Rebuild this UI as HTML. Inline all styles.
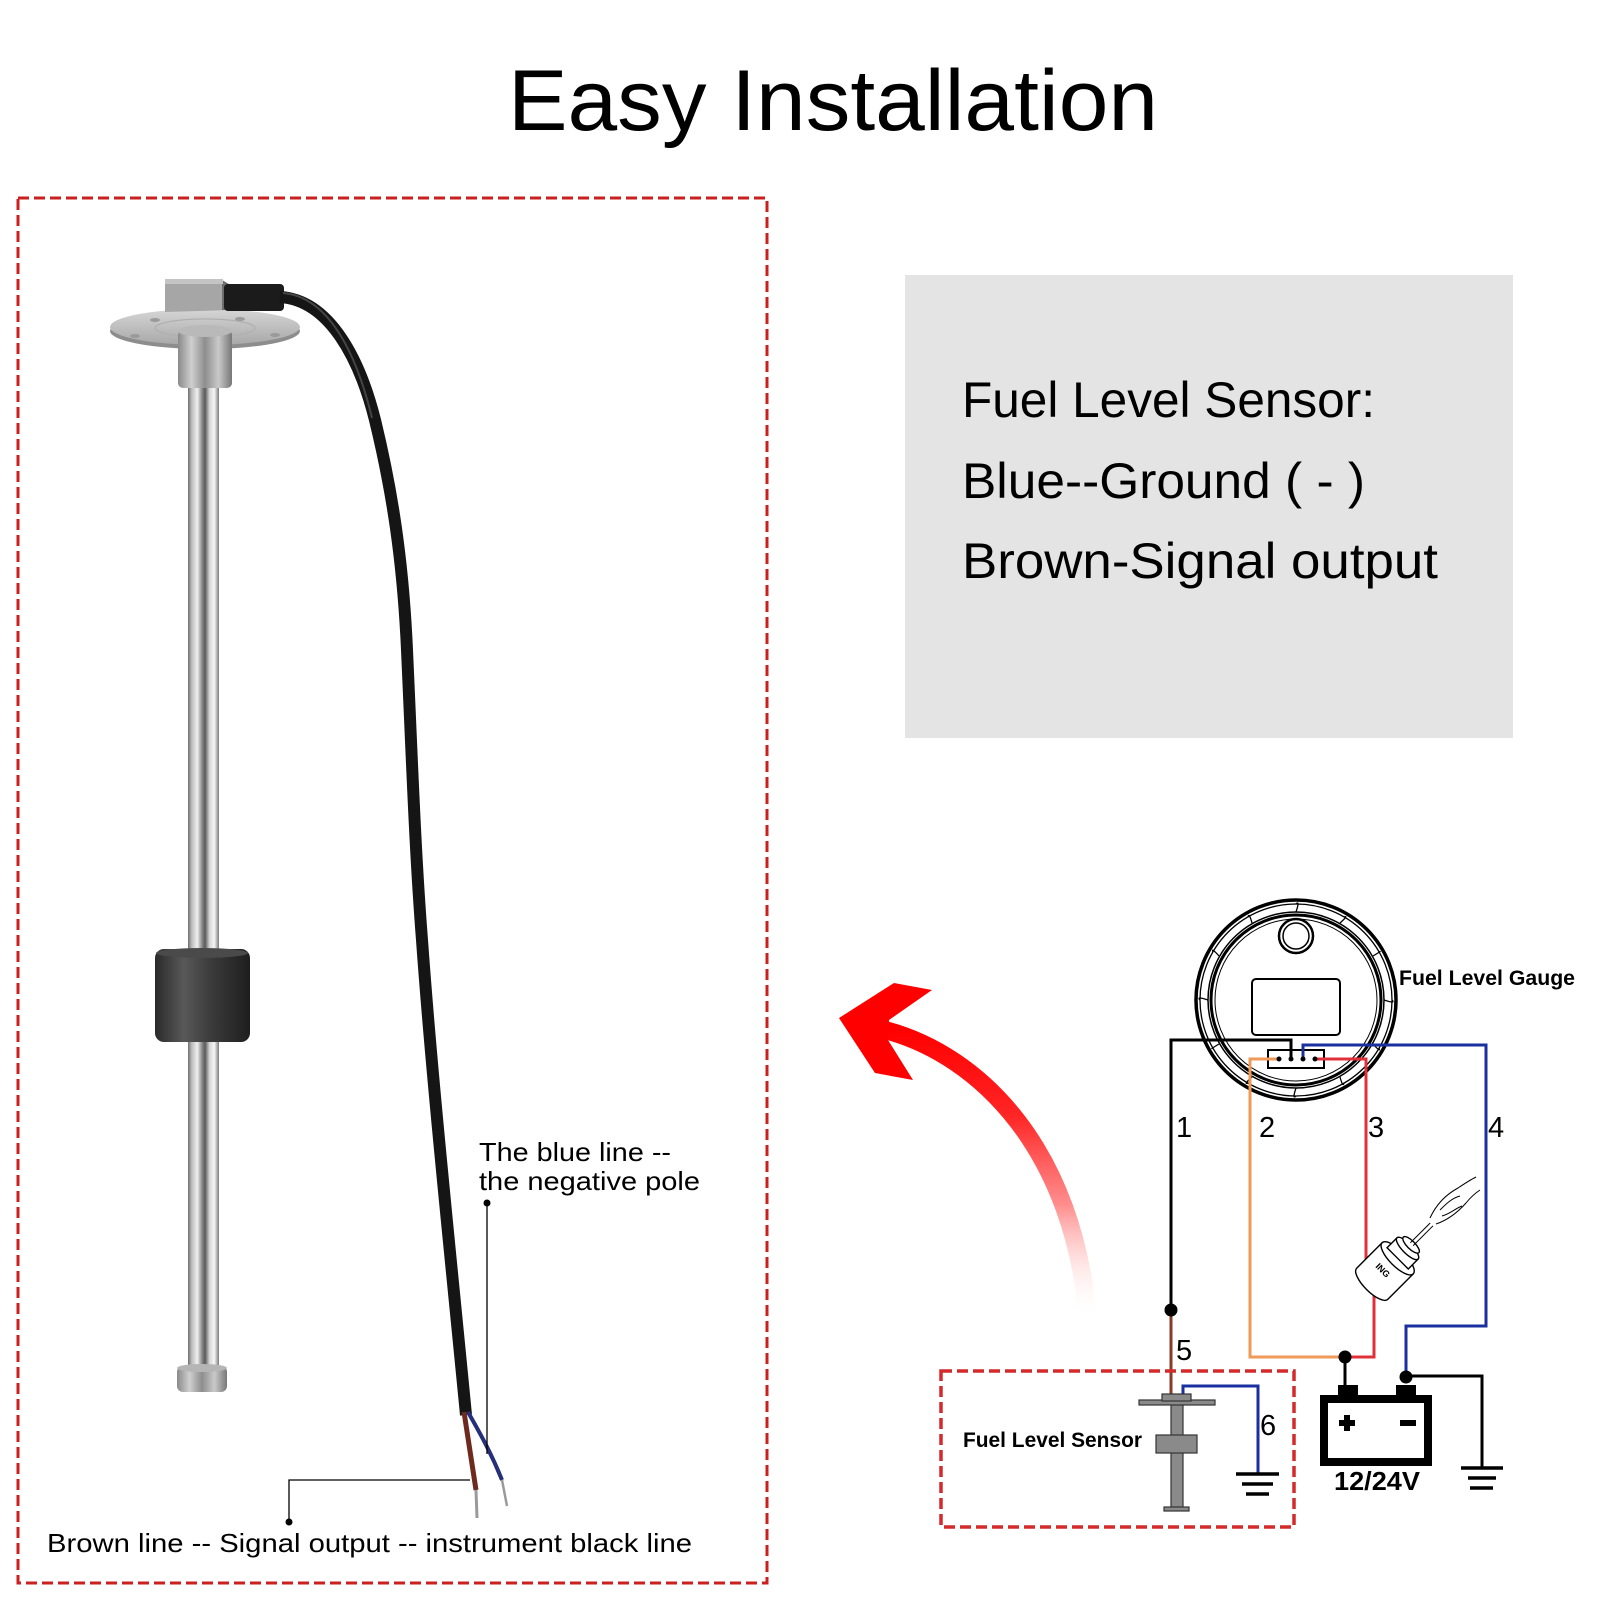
<!DOCTYPE html>
<html>
<head>
<meta charset="utf-8">
<style>
  html,body{margin:0;padding:0;background:#fff;}
  svg{display:block;}
  text{font-family:"Liberation Sans",Arial,sans-serif;}
</style>
</head>
<body>
<svg width="1600" height="1600" viewBox="0 0 1600 1600" xmlns="http://www.w3.org/2000/svg">
  <defs>
    <linearGradient id="rod" x1="0" y1="0" x2="1" y2="0">
      <stop offset="0" stop-color="#6e6e6e"/>
      <stop offset="0.12" stop-color="#bdbdbd"/>
      <stop offset="0.3" stop-color="#efefef"/>
      <stop offset="0.45" stop-color="#8a8a8a"/>
      <stop offset="0.55" stop-color="#5a5a5a"/>
      <stop offset="0.7" stop-color="#d8d8d8"/>
      <stop offset="0.85" stop-color="#f5f5f5"/>
      <stop offset="1" stop-color="#7a7a7a"/>
    </linearGradient>
    <linearGradient id="collar" x1="0" y1="0" x2="1" y2="0">
      <stop offset="0" stop-color="#8a8a8a"/>
      <stop offset="0.25" stop-color="#cfcfcf"/>
      <stop offset="0.5" stop-color="#8e8e8e"/>
      <stop offset="0.75" stop-color="#c9c9c9"/>
      <stop offset="1" stop-color="#777"/>
    </linearGradient>
    <linearGradient id="float" x1="0" y1="0" x2="1" y2="0">
      <stop offset="0" stop-color="#2a2a2a"/>
      <stop offset="0.3" stop-color="#585858"/>
      <stop offset="0.6" stop-color="#3a3a3a"/>
      <stop offset="1" stop-color="#1e1e1e"/>
    </linearGradient>
    <linearGradient id="flange" x1="0" y1="0" x2="0" y2="1">
      <stop offset="0" stop-color="#d6d6d6"/>
      <stop offset="1" stop-color="#a8a8a8"/>
    </linearGradient>
    <linearGradient id="arrowG" gradientUnits="userSpaceOnUse" x1="0" y1="1030" x2="0" y2="1320">
      <stop offset="0" stop-color="#ff0000" stop-opacity="1"/>
      <stop offset="0.3" stop-color="#ff2626" stop-opacity="1"/>
      <stop offset="0.6" stop-color="#ff7878" stop-opacity="0.85"/>
      <stop offset="1" stop-color="#ffffff" stop-opacity="0"/>
    </linearGradient>
  </defs>

  <!-- Title -->
  <text x="508" y="130" font-size="86" textLength="650" lengthAdjust="spacingAndGlyphs" fill="#000">Easy Installation</text>

  <!-- Left dashed box -->
  <rect x="18" y="198" width="749" height="1385" fill="none" stroke="#cc1f1f" stroke-width="3" stroke-dasharray="11 5"/>

  <!-- Gray info box -->
  <rect x="905" y="275" width="608" height="463" fill="#e4e4e4"/>
  <text x="962" y="417" font-size="50" textLength="413" lengthAdjust="spacingAndGlyphs" fill="#000">Fuel Level Sensor:</text>
  <text x="962" y="498" font-size="50" textLength="403" lengthAdjust="spacingAndGlyphs" fill="#000">Blue--Ground ( - )</text>
  <text x="962" y="578" font-size="50" textLength="476" lengthAdjust="spacingAndGlyphs" fill="#000">Brown-Signal output</text>

  <!-- ===== Sensor photo ===== -->
  <rect x="188" y="380" width="31" height="995" fill="url(#rod)"/>
  <rect x="177" y="1366" width="50" height="26" rx="6" fill="url(#collar)"/>
  <ellipse cx="202" cy="1368" rx="25" ry="4" fill="#b5b5b5"/>
  <rect x="155" y="949" width="95" height="93" rx="9" fill="url(#float)"/>
  <ellipse cx="202" cy="953" rx="46" ry="5" fill="#4a4a4a"/>
  <ellipse cx="205" cy="331" rx="95" ry="18" fill="#8d8d8d"/>
  <ellipse cx="205" cy="327" rx="95" ry="18" fill="url(#flange)"/>
  <ellipse cx="205" cy="328" rx="50" ry="9" fill="none" stroke="#b0b0b0" stroke-width="1.2"/>
  <ellipse cx="135" cy="336" rx="5" ry="2" fill="#9a9a9a"/>
  <ellipse cx="155" cy="320" rx="5" ry="2" fill="#9a9a9a"/>
  <ellipse cx="240" cy="319" rx="5" ry="2" fill="#9a9a9a"/>
  <ellipse cx="275" cy="335" rx="5" ry="2" fill="#9a9a9a"/>
  <rect x="178" y="330" width="54" height="58" rx="5" fill="url(#collar)"/>
  <ellipse cx="205" cy="331" rx="27" ry="6" fill="#b9b9b9"/>
  <polygon points="165,282 222,280 232,286 232,310 165,312" fill="#a6a6a6"/>
  <polygon points="222,280 232,286 232,310 222,310" fill="#6e6e6e"/>
  <rect x="165" y="279" width="58" height="5" fill="#c4c4c4"/>
  <rect x="224" y="284" width="60" height="27" rx="4" fill="#1b1b1b"/>
  <path d="M 280 297 C 330 300, 360 360, 375 420 C 392 490, 403 560, 407 650 C 412 760, 415 850, 422 940 C 432 1080, 450 1250, 466 1415" fill="none" stroke="#151515" stroke-width="12" stroke-linecap="butt"/>
  <path d="M 283 293 C 330 297, 357 356, 372 418" fill="none" stroke="#444" stroke-width="2"/>
  <path d="M 464 1412 L 476 1490" fill="none" stroke="#6e2a1e" stroke-width="5"/>
  <path d="M 476 1490 L 477 1518" fill="none" stroke="#9a9a9a" stroke-width="3"/>
  <path d="M 468 1412 C 478 1430, 490 1450, 502 1480" fill="none" stroke="#252f7a" stroke-width="4"/>
  <path d="M 502 1480 L 507 1506" fill="none" stroke="#9a9a9a" stroke-width="2.5"/>

  <!-- leaders -->
  <line x1="487" y1="1203" x2="487" y2="1454" stroke="#000" stroke-width="1.3"/>
  <circle cx="487" cy="1203" r="3.5" fill="#000"/>
  <polyline points="289,1522 289,1480 470,1480" fill="none" stroke="#000" stroke-width="1.3"/>
  <circle cx="289" cy="1522" r="3.5" fill="#000"/>

  <text x="479" y="1161" font-size="26" textLength="192" lengthAdjust="spacingAndGlyphs" fill="#000">The blue line --</text>
  <text x="479" y="1190" font-size="26" textLength="221" lengthAdjust="spacingAndGlyphs" fill="#000">the negative pole</text>
  <text x="47" y="1552" font-size="26" textLength="645" lengthAdjust="spacingAndGlyphs" fill="#000">Brown line -- Signal output -- instrument black line</text>

  <!-- ===== Red arrow ===== -->
  <path d="M 885 1030 C 980 1055, 1075 1150, 1088 1322" fill="none" stroke="url(#arrowG)" stroke-width="18"/>
  <polygon points="839,1018 894,983 932,990 889,1020 888,1040 913,1080 875,1073" fill="#ff0000"/>

  <!-- ===== Gauge ===== -->
  <g fill="none" stroke="#000">
    <circle cx="1296" cy="1000" r="100" stroke-width="3.5"/>
    <circle cx="1296" cy="1000" r="96" stroke-width="1.3"/>
    <circle cx="1296" cy="1000" r="88" stroke-width="1.5"/>
    <circle cx="1296" cy="1000" r="85" stroke-width="3"/>
    <circle cx="1296" cy="1000" r="81" stroke-width="1"/>
  </g>
  <g stroke="#000" stroke-width="1.3" fill="none">
    <path d="M1296 904 Q1300 900 1296 912"/>
    <path d="M1344 917 Q1349 915 1340 923"/>
    <path d="M1379 952 Q1383 950 1373 956"/>
    <path d="M1392 1000 Q1396 1004 1384 1000"/>
    <path d="M1379 1048 Q1381 1053 1373 1044"/>
    <path d="M1344 1083 Q1343 1088 1340 1077"/>
    <path d="M1296 1096 Q1292 1100 1296 1088"/>
    <path d="M1248 1083 Q1243 1085 1252 1077"/>
    <path d="M1213 1048 Q1209 1050 1219 1044"/>
    <path d="M1200 1000 Q1196 996 1208 1000"/>
    <path d="M1213 952 Q1211 947 1219 956"/>
    <path d="M1248 917 Q1249 912 1252 923"/>
  </g>
  <circle cx="1296" cy="936" r="17" fill="none" stroke="#000" stroke-width="2.5"/>
  <circle cx="1296" cy="936" r="13" fill="none" stroke="#000" stroke-width="1.5"/>
  <rect x="1252" y="979" width="88" height="56" rx="4" fill="#fff" stroke="#000" stroke-width="2"/>
  <rect x="1268" y="1050" width="56" height="18" fill="#fff" stroke="#000" stroke-width="2"/>
  <text x="1399" y="985" font-size="21" font-weight="bold" textLength="176" lengthAdjust="spacingAndGlyphs" fill="#000">Fuel Level Gauge</text>

  <!-- wires -->
  <polyline points="1291,1059 1291,1040 1171,1040 1171,1309" fill="none" stroke="#000" stroke-width="3"/>
  <polyline points="1303,1059 1303,1045 1486,1045 1486,1326 1406,1326 1406,1376" fill="none" stroke="#1a2fa0" stroke-width="3"/>
  <polyline points="1279,1059 1250,1059 1250,1357 1345,1357" fill="none" stroke="#ef9a58" stroke-width="3"/>
  <polyline points="1315,1059 1366,1059 1366,1275" fill="none" stroke="#e0303a" stroke-width="3"/>
  <polyline points="1374,1295 1374,1357 1345,1357" fill="none" stroke="#e0303a" stroke-width="3"/>
  <line x1="1171" y1="1309" x2="1171" y2="1398" stroke="#8b3a2a" stroke-width="3"/>
  <line x1="1345" y1="1357" x2="1345" y2="1390" stroke="#000" stroke-width="3"/>
  <polyline points="1406,1376 1482,1376 1482,1467" fill="none" stroke="#000" stroke-width="3"/>
  <g fill="#000">
    <circle cx="1279" cy="1059" r="2.5"/>
    <circle cx="1291" cy="1059" r="2.5"/>
    <circle cx="1303" cy="1059" r="2.5"/>
    <circle cx="1315" cy="1059" r="2.5"/>
    <circle cx="1171" cy="1310" r="6.5"/>
    <circle cx="1345" cy="1357" r="6.5"/>
    <circle cx="1406" cy="1377" r="6.5"/>
  </g>

  <!-- numbers -->
  <g font-size="29" fill="#000">
    <text x="1176" y="1137">1</text>
    <text x="1259" y="1137">2</text>
    <text x="1368" y="1137">3</text>
    <text x="1488" y="1137">4</text>
    <text x="1176" y="1360">5</text>
    <text x="1260" y="1435">6</text>
  </g>

  <!-- ignition switch -->
  <g transform="translate(1392,1264) rotate(-45)" stroke="#000" stroke-width="1.4" fill="#fff">
    <rect x="-34" y="-14" width="8" height="6" rx="2"/>
    <rect x="-34" y="-2" width="8" height="6" rx="2"/>
    <rect x="-34" y="10" width="8" height="6" rx="2"/>
    <path d="M -28 -22 L 8 -22 L 8 22 L -28 22 A 8 22 0 0 1 -28 -22 Z"/>
    <ellipse cx="8" cy="0" rx="8" ry="22"/>
    <path d="M 8 -15 L 22 -15 L 22 15 L 8 15 Z"/>
    <ellipse cx="22" cy="0" rx="5" ry="15"/>
    <ellipse cx="27" cy="0" rx="4" ry="11"/>
    <line x1="28" y1="-2" x2="56" y2="-2" stroke-width="1"/>
    <line x1="28" y1="2" x2="56" y2="2" stroke-width="1"/>
    <text x="-14" y="-10" transform="rotate(90 -14 -10)" font-family="Liberation Serif, serif" font-size="9" font-weight="bold" fill="#000" stroke="none">ING</text>
  </g>
  <g fill="none" stroke="#000" stroke-width="1">
    <path d="M1430 1218 C1436 1205, 1445 1195, 1458 1188 C1464 1184, 1470 1180, 1476 1177"/>
    <path d="M1436 1224 C1448 1220, 1458 1212, 1466 1203 C1470 1198, 1474 1194, 1480 1190"/>
    <path d="M1440 1210 C1446 1204, 1452 1198, 1460 1196"/>
    <path d="M1442 1216 C1450 1214, 1456 1208, 1462 1206"/>
  </g>

  <!-- battery -->
  <rect x="1338" y="1385" width="20" height="12" fill="#000"/>
  <rect x="1396" y="1385" width="20" height="12" fill="#000"/>
  <rect x="1324" y="1399" width="104" height="63" fill="#fff" stroke="#000" stroke-width="8"/>
  <rect x="1339" y="1420" width="16" height="6" fill="#000"/>
  <rect x="1344" y="1415" width="6" height="16" fill="#000"/>
  <rect x="1400" y="1420" width="16" height="6" fill="#000"/>
  <text x="1334" y="1490" font-size="26" font-weight="bold" textLength="86" lengthAdjust="spacingAndGlyphs" fill="#000">12/24V</text>

  <!-- right ground -->
  <g stroke="#000" stroke-width="3.5">
    <line x1="1461" y1="1468" x2="1503" y2="1468"/>
    <line x1="1468" y1="1478" x2="1496" y2="1478"/>
    <line x1="1470" y1="1488" x2="1493" y2="1488"/>
  </g>

  <!-- sensor dashed box -->
  <rect x="941" y="1371" width="353" height="156" fill="none" stroke="#d42a2a" stroke-width="3.5" stroke-dasharray="11 5"/>
  <text x="963" y="1447" font-size="21" font-weight="bold" textLength="179" lengthAdjust="spacingAndGlyphs" fill="#000">Fuel Level Sensor</text>
  <polyline points="1183,1397 1183,1386 1258,1386 1258,1474" fill="none" stroke="#1a2fa0" stroke-width="3"/>
  <g fill="#8a8a8a" stroke="#333" stroke-width="1.2">
    <rect x="1171" y="1401" width="12" height="107"/>
    <rect x="1139" y="1400" width="76" height="5"/>
    <rect x="1162" y="1394" width="29" height="7"/>
    <rect x="1156" y="1435" width="41" height="18"/>
    <rect x="1164" y="1507" width="25" height="4"/>
  </g>
  <g stroke="#000" stroke-width="3.5">
    <line x1="1236" y1="1474" x2="1279" y2="1474"/>
    <line x1="1242" y1="1484" x2="1273" y2="1484"/>
    <line x1="1246" y1="1494" x2="1269" y2="1494"/>
  </g>
</svg>
</body>
</html>
